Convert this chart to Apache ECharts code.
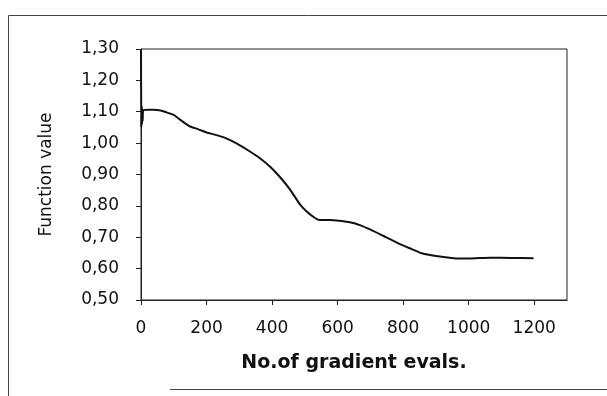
<!DOCTYPE html>
<html>
<head>
<meta charset="utf-8">
<script src="https://cdn.jsdelivr.net/npm/echarts@6/dist/echarts.min.js"></script>
<style>
  html, body { margin: 0; padding: 0; background: #fff; }
  #chart { width: 607px; height: 396px; }
</style>
</head>
<body>
<div id="chart"></div>
<script>
// No. of gradient evaluations vs function value
const evals = [0, 1, 2, 3, 4, 5, 6, 8, 20, 38, 60, 78, 100, 119, 135, 150, 175, 200, 225, 251,
  275, 302, 330, 363, 395, 424, 455, 485, 510, 530, 541, 577, 638, 670, 699, 740, 781, 820,
  857, 900, 954, 1000, 1066, 1130, 1198];
const fvals = [1.30, 1.05, 1.12, 1.06, 1.11, 1.07, 1.10, 1.105, 1.106, 1.106, 1.104, 1.098, 1.09,
  1.075, 1.063, 1.053, 1.044, 1.034, 1.027, 1.019, 1.008, 0.993, 0.975, 0.952, 0.924, 0.892,
  0.852, 0.805, 0.778, 0.762, 0.756, 0.755, 0.748, 0.738, 0.725, 0.704, 0.683, 0.665, 0.649,
  0.64, 0.633, 0.632, 0.635, 0.634, 0.633];
const xTicks = [0, 200, 400, 600, 800, 1000, 1200];

const chart = echarts.init(document.getElementById('chart'));
const font = 'DejaVu Sans';
const frameStyle = { fill: 'none', stroke: '#444', lineWidth: 1 };

const option = {
  animation: false,
  backgroundColor: '#fff',
  // outer frame of the scanned page: left, top and bottom edges only
  graphic: [
    { type: 'polyline', shape: { points: [[8.5, 396], [8.5, 15.5], [607, 15.5]] }, style: frameStyle },
    { type: 'line', shape: { x1: 170, y1: 389.5, x2: 607, y2: 389.5 }, style: frameStyle }
  ],
  grid: {
    left: 141,
    right: 40,
    top: 49,
    bottom: 96,
    show: true,
    borderColor: '#222',
    borderWidth: 1
  },
  xAxis: {
    type: 'value',
    min: 0,
    max: 1300,
    interval: 200,
    name: 'No.of gradient evals.',
    nameLocation: 'middle',
    nameGap: 54,
    nameTextStyle: { fontFamily: font, fontSize: 19, fontWeight: 'bold', color: '#111' },
    axisLine: { lineStyle: { color: '#222', width: 1 } },
    axisTick: { inside: false, length: 5, customValues: xTicks, lineStyle: { color: '#222' } },
    axisLabel: {
      margin: 20,
      customValues: xTicks,
      fontFamily: font, fontSize: 17, color: '#111',
      formatter: v => String(v)
    },
    splitLine: { show: false }
  },
  yAxis: {
    type: 'value',
    min: 0.5,
    max: 1.3,
    interval: 0.1,
    name: 'Function value',
    nameLocation: 'middle',
    nameGap: 86,
    nameRotate: 90,
    nameTextStyle: { fontFamily: font, fontSize: 17, color: '#111' },
    axisLine: { show: true, lineStyle: { color: '#222', width: 1 } },
    axisTick: { show: true, length: 5, lineStyle: { color: '#222' } },
    axisLabel: {
      margin: 22,
      fontFamily: font, fontSize: 17, color: '#111',
      formatter: v => v.toFixed(2).replace('.', ',')
    },
    splitLine: { show: false }
  },
  series: [{
    type: 'line',
    data: evals.map((x, i) => [x, fvals[i]]),
    showSymbol: false,
    smooth: 0.2,
    lineStyle: { color: '#111', width: 2 }
  }]
};

chart.setOption(option);
</script>
</body>
</html>
